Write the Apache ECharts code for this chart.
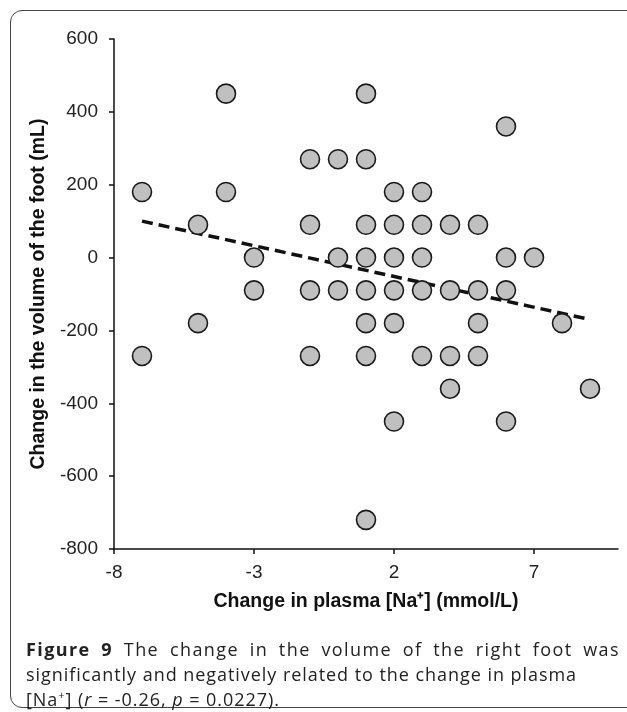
<!DOCTYPE html>
<html>
<head>
<meta charset="utf-8">
<script src="https://cdn.jsdelivr.net/npm/echarts@6/dist/echarts.min.js"></script>
<style>
    html, body { margin: 0; padding: 0; background: #fff; }
    #wrap { position: relative; width: 627px; height: 712px; overflow: hidden; }
    #box {
        position: absolute; left: 10px; top: 10px; width: 640px; height: 698px;
        border: 1.5px solid #444; border-radius: 12px; box-sizing: border-box;
    }
    #chart { position: absolute; left: 0; top: 0; width: 627px; height: 712px; }
    #caption {
        position: absolute; left: 26px; top: 637px; width: 594px;
        font-family: "Open Sans", "Noto Sans", sans-serif; font-size: 18px;
        line-height: 25px; color: #222; letter-spacing: 0.95px;
    }
    #caption .l1 { text-align: justify; text-align-last: justify; letter-spacing: 1.4px; white-space: nowrap; }
    #caption b { font-weight: 700; }
    #caption sup { font-size: 11px; line-height: 0; }
</style>
</head>
<body>
<div id="wrap">
    <div id="box"></div>
    <div id="chart"></div>
    <div id="caption">
        <div class="l1"><b>Figure 9</b> The change in the volume of the right foot was</div>
        <div>significantly and negatively related to the change in plasma</div>
        <div>[Na<sup>+</sup>] (<i>r</i> = -0.26, <i>p</i> = 0.0227).</div>
    </div>
</div>
<script>
"use strict"

// 散点数据：血浆钠变化 (mmol/L) 与 足部体积变化 (mL)
let naChange = [
    -7, -7, -5, -5, -4, -4, -3, -3,
    -1, -1, -1, -1, 0, 0, 0,
    1, 1, 1, 1, 1, 1, 1, 1,
    2, 2, 2, 2, 2, 2,
    3, 3, 3, 3, 3,
    4, 4, 4, 4,
    5, 5, 5, 5,
    6, 6, 6, 6,
    7, 8, 9
];
let footChange = [
    180, -270, 90, -180, 450, 180, 0, -90,
    270, 90, -90, -270, 270, 0, -90,
    450, 270, 90, 0, -90, -180, -270, -720,
    180, 90, 0, -90, -180, -450,
    180, 90, 0, -90, -270,
    90, -90, -270, -360,
    90, -90, -180, -270,
    360, 0, -90, -450,
    0, -180, -360
];

// 趋势线端点
let trendX = [-7, 9];
let trendY = [100, -170];

// 坐标轴
let xMin = -8, xMax = 10, xStep = 5;
let xTicks = [-8, -3, 2, 7];
let yMin = -800, yMax = 600, yStep = 200;

let points = naChange.map((v, i) => [v, footChange[i]]);
let trend = trendX.map((v, i) => [v, trendY[i]]);

let myChart = echarts.init(document.getElementById("chart"));
let labelFont = {
    fontFamily: "Liberation Sans, Arial, sans-serif",
    fontSize: 19,
    color: "#222"
};
let titleFont = {
    fontFamily: "Liberation Sans, Arial, sans-serif",
    fontSize: 19.5,
    fontWeight: "bold",
    color: "#111"
};
let option = {
    animation: false,
    grid: {
        left: 114,
        right: 9,
        top: 39,
        bottom: 163
    },
    xAxis: {
        type: "value",
        min: xMin,
        max: xMax,
        interval: xStep,
        name: "Change in plasma [Na\u207A] (mmol/L)",
        nameLocation: "middle",
        nameGap: 43,
        nameTextStyle: titleFont,
        splitLine: { show: false },
        axisLine: { onZero: false, lineStyle: { color: "#111", width: 1.5 } },
        axisTick: {
            show: true,
            length: 5,
            lineStyle: { color: "#111", width: 1.5 },
            customValues: xTicks
        },
        axisLabel: Object.assign({ margin: 14, showMaxLabel: false }, labelFont)
    },
    yAxis: {
        type: "value",
        min: yMin,
        max: yMax,
        interval: yStep,
        name: "Change in the volume of the foot (mL)",
        nameLocation: "middle",
        nameGap: 58,
        nameRotate: 90,
        nameTextStyle: titleFont,
        splitLine: { show: false },
        axisLine: { show: true, onZero: false, lineStyle: { color: "#111", width: 1.5 } },
        axisTick: { show: true, length: 5, lineStyle: { color: "#111", width: 1.5 } },
        axisLabel: Object.assign({ margin: 16 }, labelFont)
    },
    series: [
        {
            type: "line",
            data: trend,
            symbol: "none",
            z: 1,
            lineStyle: { color: "#111", width: 3.5, type: [11, 6] }
        },
        {
            type: "scatter",
            data: points,
            symbol: "circle",
            symbolSize: 19,
            z: 2,
            itemStyle: {
                color: "#c0c0c0",
                borderColor: "#1a1a1a",
                borderWidth: 1.6,
                opacity: 1
            }
        }
    ]
};
myChart.setOption(option);
</script>
</body>
</html>
